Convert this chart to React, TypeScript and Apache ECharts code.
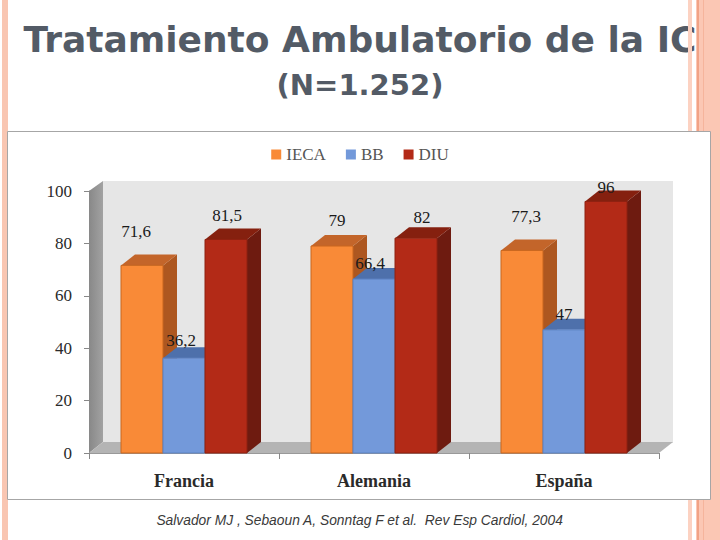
import React, { useEffect, useRef } from "react";
import * as echarts from "echarts";

const categories = ["Francia", "Alemania", "España"];
const seriesNames = ["IECA", "BB", "DIU"];
const ieca = [71.6, 79, 77.3];
const bb = [36.2, 66.4, 47];
const diu = [81.5, 82, 96];
const valueLabels = [
  ["71,6", "79", "77,3"],
  ["36,2", "66,4", "47"],
  ["81,5", "82", "96"],
];
const yTicks = [0, 20, 40, 60, 80, 100];

// styling
const FRONT = ["#f98a37", "#7399da", "#b32a17"];
const TOP = ["#c3652a", "#4e70ab", "#85200f"];
const SIDE = ["#ad5720", "#3f5f94", "#6e1b10"];
const EDGE = ["#c9671f", "#5d82c2", "#8e2010"];
const DX = 14;
const DY = 11;
const BAR_RATIO = 42 / 190;
// label offsets [dx, lift above front top]
const LABEL_OFF = [
  [[-6, 34], [5, 26], [4, 34]],
  [[-3, 18], [-4, 16], [0, 15]],
  [[1, 24], [6, 21], [0, 14]],
];

const SERIF = "'Liberation Serif', 'DejaVu Serif', serif";

function makeBarRenderer(s: number) {
  return (params: any, api: any) => {
    const cat = api.value(0);
    const val = api.value(1);
    const base = api.coord([cat, 0]);
    const top = api.coord([cat, val]);
    const band = api.size([1, 0])[0];
    const bw = band * BAR_RATIO;
    const x0 = base[0] - 1.5 * bw + s * bw;
    const x1 = x0 + bw;
    const y0 = base[1];
    const yt = top[1];
    const off = LABEL_OFF[s][params.dataIndex];
    return {
      type: "group",
      children: [
        {
          type: "polygon",
          shape: { points: [[x1, yt], [x1 + DX, yt - DY], [x1 + DX, y0 - DY], [x1, y0]] },
          style: { fill: SIDE[s] },
        },
        {
          type: "polygon",
          shape: { points: [[x0, yt], [x0 + DX, yt - DY], [x1 + DX, yt - DY], [x1, yt]] },
          style: { fill: TOP[s] },
        },
        {
          type: "rect",
          shape: { x: x0, y: yt, width: bw, height: y0 - yt },
          style: { fill: FRONT[s], stroke: EDGE[s], lineWidth: 1 },
        },
        {
          type: "text",
          x: x0 + bw / 2 + off[0],
          y: yt - off[1],
          style: {
            text: valueLabels[s][params.dataIndex],
            fill: "#1a1a1a",
            font: `17px ${SERIF}`,
            align: "center",
            verticalAlign: "middle",
          },
        },
      ],
    };
  };
}

function renderWalls(params: any, api: any) {
  const cs = params.coordSys;
  const x0 = cs.x;
  const x1 = cs.x + cs.width;
  const yTop = api.coord([0, 100])[1];
  const y0 = api.coord([0, 0])[1];
  return {
    type: "group",
    children: [
      {
        type: "rect",
        shape: { x: x0 + DX, y: yTop - DY + 1, width: x1 - x0, height: y0 - yTop },
        style: { fill: "#e6e6e6" },
      },
      {
        type: "polygon",
        shape: { points: [[x0, yTop], [x0 + DX, yTop - DY + 1], [x0 + DX, y0 - DY], [x0, y0]] },
        style: {
          fill: new echarts.graphic.LinearGradient(0, 0, 1, 0, [
            { offset: 0, color: "#888888" },
            { offset: 1, color: "#a2a2a2" },
          ]),
        },
      },
      {
        type: "polygon",
        shape: { points: [[x0, y0], [x0 + DX, y0 - DY], [x1 + DX, y0 - DY], [x1, y0]] },
        style: { fill: "#b4b4b4" },
      },
    ],
  };
}

export default function App() {
  const ref = useRef<HTMLDivElement>(null);
  useEffect(() => {
    if (!ref.current) return;
    const chart = echarts.init(ref.current, undefined, { renderer: "svg" });
    const seriesData = [ieca, bb, diu];
    const option: any = {
      animation: false,
      backgroundColor: "#ffffff",
      grid: { left: 89, right: 61, top: 191, bottom: 87, containLabel: false },
      legend: {
        data: seriesNames,
        top: 141,
        left: "center",
        icon: "rect",
        itemWidth: 10,
        itemHeight: 10,
        itemGap: 20,
        textStyle: { fontFamily: SERIF, fontSize: 17, color: "#555" },
      },
      xAxis: {
        type: "category",
        data: categories,
        axisLine: { show: true, lineStyle: { color: "#999", width: 1 } },
        axisTick: { show: true, length: 6, lineStyle: { color: "#888" } },
        axisLabel: { margin: 19, fontFamily: SERIF, fontSize: 18, fontWeight: "bold", color: "#2a2a2a" },
        splitLine: { show: false },
      },
      yAxis: {
        type: "value",
        min: yTicks[0],
        max: yTicks[yTicks.length - 1],
        interval: 20,
        axisLine: { show: true, lineStyle: { color: "#888" } },
        axisTick: { show: true, length: 5, lineStyle: { color: "#888" } },
        axisLabel: { margin: 17, fontFamily: SERIF, fontSize: 17, color: "#2a2a2a" },
        splitLine: { show: false },
      },
      series: [
        {
          name: "walls",
          type: "custom",
          renderItem: renderWalls,
          data: [[0, 0]],
          z: 1,
          clip: false,
          silent: true,
        },
        ...seriesNames.map((name, s) => ({
          name,
          type: "custom",
          renderItem: makeBarRenderer(s),
          itemStyle: { color: FRONT[s] },
          data: seriesData[s].map((v, i) => [i, v]),
          z: 2,
          clip: false,
        })),
      ],
      graphic: [
        {
          type: "text",
          left: "center",
          top: 21,
          z: -3,
          style: {
            text: "Tratamiento Ambulatorio de la IC",
            font: "bold 36px 'DejaVu Sans', sans-serif",
            fill: "#535b66",
          },
        },
        {
          type: "text",
          left: "center",
          top: 70,
          z: -3,
          style: {
            text: "(N=1.252)",
            font: "bold 29px 'DejaVu Sans', sans-serif",
            fill: "#535b66",
          },
        },
        { type: "rect", z: -2, shape: { x: 2, y: 0, width: 6, height: 540 }, style: { fill: "#f9c6b2" } },
        { type: "rect", z: -2, shape: { x: 688, y: 0, width: 4, height: 540 }, style: { fill: "#fcd2c2" } },
        { type: "rect", z: -2, shape: { x: 696, y: 0, width: 24, height: 540 }, style: { fill: "#fbc7b4" } },
        { type: "rect", z: -2, shape: { x: 697, y: 0, width: 2, height: 540 }, style: { fill: "#f1a285" } },
        { type: "rect", z: -2, shape: { x: 703, y: 0, width: 1, height: 540 }, style: { fill: "#f5b49c" } },
        {
          type: "rect",
          z: -1,
          shape: { x: 7.5, y: 131.5, width: 703, height: 368 },
          style: { fill: "#ffffff", stroke: "#a6a6a6", lineWidth: 1 },
        },
        {
          type: "text",
          left: "center",
          top: 513,
          z: -1,
          style: {
            text: "Salvador MJ , Sebaoun A, Sonntag F et al.  Rev Esp Cardiol, 2004",
            font: "italic 13.8px 'Liberation Sans', sans-serif",
            fill: "#3a3a3a",
          },
        },
      ],
    };
    chart.setOption(option);
    return () => chart.dispose();
  }, []);
  return (
    <div
      ref={ref}
      style={{ position: "absolute", left: 0, top: 0, width: 720, height: 540 }}
    />
  );
}
